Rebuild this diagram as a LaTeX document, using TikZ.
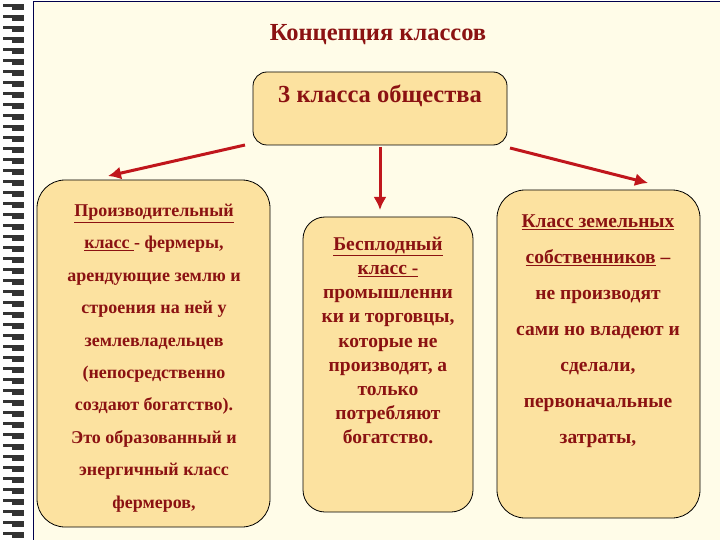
\documentclass[tikz,border=0pt]{standalone}
\usepackage{fontspec}
\setmainfont{Liberation Serif}
\usetikzlibrary{arrows.meta}
\definecolor{txt}{HTML}{8B1212}
\definecolor{boxf}{HTML}{FCE2A0}
\definecolor{pagef}{HTML}{FFFCE8}
\definecolor{arr}{HTML}{C0161C}
\tikzset{
  box/.style={draw=black, line width=0.8pt, fill=boxf, rounded corners=22pt},
  lbl/.style={text=txt, font=\bfseries, align=center, inner sep=0pt},
  con/.style={draw=arr, line width=3pt, -{Latex[length=13pt,width=13pt]}}
}
\begin{document}
\begin{tikzpicture}[x=1pt,y=-1pt]
\useasboundingbox (0,0) rectangle (720,540);
\fill[white] (0,0) rectangle (720,540);
\fill[pagef] (33,2) rectangle (720,540);
\draw[draw=black!70!blue, line width=1pt] (33,540) -- (33,2) -- (720,2);
\foreach \i in {0,...,48}{
  \fill[black!80] (3,{4+\i*11}) rectangle (24,{7+\i*11});
  \fill[black!80] (12,{7+\i*11}) rectangle (24,{10+\i*11});
}
\node[lbl, font=\bfseries\fontsize{24.5}{28}\selectfont] (title) at (378,35) {Концепция классов};
\draw[box, rounded corners=14pt] (253,72) rectangle (507,145);
\node[lbl, font=\bfseries\fontsize{24.5}{28}\selectfont] (toptxt) at (380,96) {3 класса общества};
\draw[box, rounded corners=28pt] (37,180) rectangle (270,527);
\draw[box] (303,217) rectangle (473,512);
\draw[box, rounded corners=28pt] (497,190) rectangle (700,518);
\coordinate (a1) at (245,145); \coordinate (b1) at (108,176);
\coordinate (a2) at (380,147); \coordinate (b2) at (380,210);
\coordinate (a3) at (510,148); \coordinate (b3) at (648,183);
\draw[con] (a1) -- (b1);
\draw[con] (a2) -- (b2);
\draw[con] (a3) -- (b3);
\node[lbl, anchor=north, font=\bfseries\fontsize{18}{32.4}\selectfont] (left) at (154,204) {\underline{Производительный}\\ \underline{класс }- фермеры,\\ арендующие землю и\\ строения на ней у\\ землевладельцев\\ (непосредственно\\ создают богатство).\\ Это образованный и\\ энергичный класс\\ фермеров,};
\node[lbl, anchor=north, font=\bfseries\fontsize{19.5}{24.1}\selectfont] (mid) at (388,237) {\underline{Бесплодный}\\ \underline{класс -}\\ промышленни\\ ки и торговцы,\\ которые не\\ производят, а\\ только\\ потребляют\\ богатство.};
\node[lbl, anchor=north, font=\bfseries\fontsize{19.5}{36}\selectfont] (right) at (598,215) {\underline{Класс земельных}\\ \underline{собственников} –\\ не производят\\ сами но владеют и\\ сделали,\\ первоначальные\\ затраты,};
\end{tikzpicture}
\end{document}
